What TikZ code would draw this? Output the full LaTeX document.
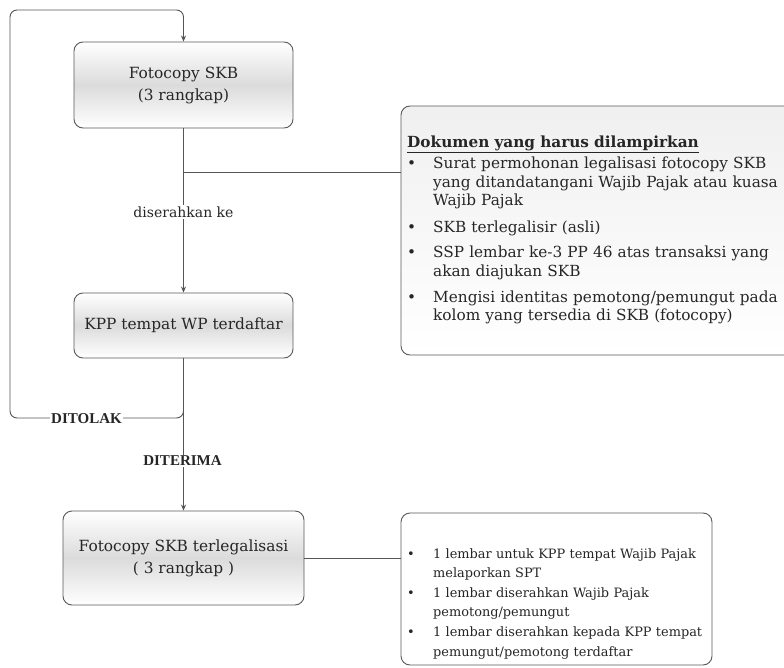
\documentclass[tikz,border=0pt]{standalone}
\usepackage{fontspec}
\setmainfont{DejaVu Serif}
\newfontfamily\lblfont{Liberation Serif}
\usetikzlibrary{arrows.meta}
\definecolor{linec}{HTML}{555555}
\definecolor{boxc}{HTML}{5A5A5A}
\definecolor{txtc}{HTML}{262626}
\newcommand\bul[2][0pt]{\par\vspace{#1}\noindent\makebox[26pt][l]{\textbullet}\begin{tabular}[t]{@{}l@{}}#2\end{tabular}}
\begin{document}
\begin{tikzpicture}[x=1pt,y=-1pt,
  box/.style={draw=boxc, line width=0.9pt, rounded corners=9pt, top color=white, bottom color=white, middle color=black!14, inner sep=0pt, align=center, text=txtc},
  conn/.style={draw=linec, line width=0.9pt},
  arr/.style={conn, -{Stealth[length=6pt,width=5pt]}},
  lbl/.style={fill=white, inner sep=1.5pt, text=black!85, font=\lblfont\fontsize{15}{18}\selectfont\bfseries},
  boxfont/.style={font=\fontsize{15.4}{22}\selectfont},
  listtext/.style={anchor=north west, inner sep=0pt, align=left, text=txtc}
]
\fill[white] (0,0) rectangle (784,668);
\useasboundingbox (0,0) rectangle (784,668);
% main boxes
\node[box, boxfont, minimum width=219pt, minimum height=86pt] (b1) at (183.5,85) {Fotocopy SKB\\(3 rangkap)};
\node[box, boxfont, minimum width=219pt, minimum height=65pt] (b2) at (183.5,325.5) {KPP tempat WP terdaftar};
\node[box, boxfont, minimum width=241pt, minimum height=94pt] (b4) at (183.5,558) {Fotocopy SKB terlegalisasi\\( 3 rangkap )};
% side boxes
\node[box, minimum width=392pt, minimum height=249pt, top color=black!6, middle color=black!13, bottom color=white] (doc) at (597,230.5) {};
\node[box, minimum width=311pt, minimum height=152pt, top color=white, middle color=black!13, bottom color=white] (res) at (556.5,589) {};
\node[listtext, text width=385pt, font=\fontsize{15.3}{18.8}\selectfont] (doctext) at (407,134) {%
\strut\textbf{\underline{Dokumen yang harus dilampirkan}}%
\bul[2.2pt]{Surat permohonan legalisasi fotocopy SKB\\yang ditandatangani Wajib Pajak atau kuasa\\Wajib Pajak}%
\bul[7pt]{SKB terlegalisir (asli)}%
\bul[6pt]{SSP lembar ke-3 PP 46 atas transaksi yang\\akan diajukan SKB}%
\bul[6pt]{Mengisi identitas pemotong/pemungut pada\\kolom yang tersedia di SKB (fotocopy)}};
\node[listtext, text width=300pt, font=\fontsize{12.9}{19.2}\selectfont] (restext) at (407,538.6) {%
\bul{1 lembar untuk KPP tempat Wajib Pajak\\melaporkan SPT}%
\bul{1 lembar diserahkan Wajib Pajak\\pemotong/pemungut}%
\bul{1 lembar diserahkan kepada KPP tempat\\pemungut/pemotong terdaftar}};
% connectors
\draw[arr] (b1) -- (b2);
\node[fill=white, inner sep=1.5pt, text=txtc, font=\fontsize{14}{16}\selectfont] (dis) at (183.5,212) {diserahkan ke};
\coordinate (br) at (183.5,172);
\draw[conn] (br) -- (br -| doc.west);
\draw[arr] (b2) -- (b4);
\coordinate (lj) at (183.5,405);
\coordinate (c1) at (183.5,418);
\coordinate (c2) at (10,418);
\coordinate (c3) at (10,10);
\coordinate (c4) at (183.5,10);
\draw[arr, rounded corners=7pt] (lj) -- (c1) -- (c2) -- (c3) -- (c4) -- (b1.north);
\node[lbl] (ditolak) at (86.5,419) {DITOLAK};
\node[lbl] (diterima) at (182.5,461) {DITERIMA};
\draw[conn] (b4.east) -- (b4.east -| res.west);
\end{tikzpicture}
\end{document}
